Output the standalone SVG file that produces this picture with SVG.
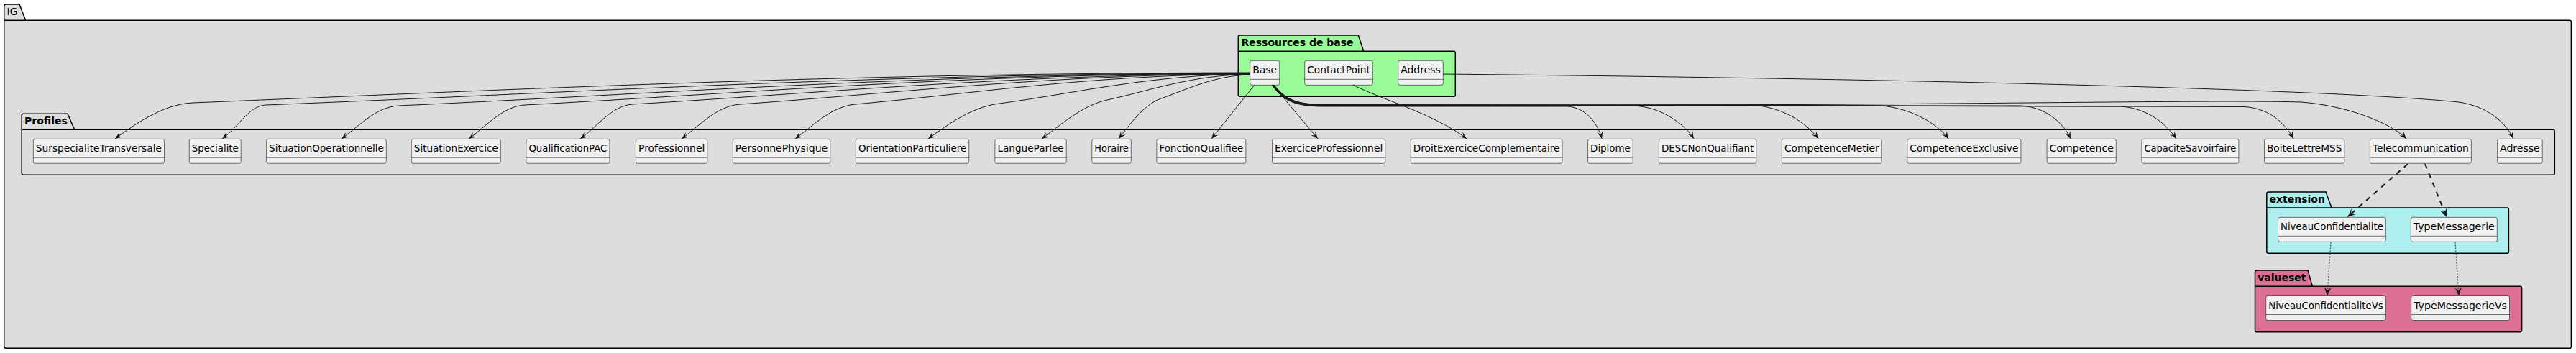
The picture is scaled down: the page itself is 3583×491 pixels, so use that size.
<svg xmlns="http://www.w3.org/2000/svg" width="3583" height="491" viewBox="0 0 3583 491">
<style>
.pkg{stroke:#000;stroke-width:1.5}
.ptitle{font-family:"DejaVu Sans",sans-serif;font-size:14px;font-weight:bold;fill:#000}
.node rect{fill:#F1F1F1;stroke:#181818;stroke-width:0.6}
.node line{stroke:#181818;stroke-width:0.6}
.node text{font-family:"DejaVu Sans",sans-serif;font-size:14px;fill:#000}
.edge{fill:none;stroke:#181818;stroke-width:1}
.dash{fill:none;stroke:#181818;stroke-width:2;stroke-dasharray:7 7}
.dot{fill:none;stroke:#444;stroke-width:1.2;stroke-dasharray:2 2}
</style>
<defs>
<marker id="ah" viewBox="-11 -6 12 12" refX="0" refY="0" markerWidth="12" markerHeight="12" markerUnits="userSpaceOnUse" orient="auto"><path d="M0,0 L-10,-4 L-6,0 L-10,4 Z" fill="#181818"/></marker>
<marker id="ahb" viewBox="-13 -7 14 14" refX="0" refY="0" markerWidth="14" markerHeight="14" markerUnits="userSpaceOnUse" orient="auto"><path d="M0,0 L-12,-5 L-7,0 L-12,5 Z" fill="#181818"/></marker>
</defs>
<rect x="0" y="0" width="3583" height="491" fill="#FFFFFF"/>
<g id="packages">
<g id="pkg-IG">
<path class="pkg" fill="#DDDDDD" d="M5.7,28.3 L5.7,8.5 Q5.7,6 8.2,6 L27,6 L35.6,28.3 L3573.9,28.3 Q3576.4,28.3 3576.4,30.8 L3576.4,481.8 Q3576.4,484.3 3573.9,484.3 L8.2,484.3 Q5.7,484.3 5.7,481.8 Z"/>
<line class="pkg" x1="5.7" y1="28.3" x2="35.6" y2="28.3"/>
<text x="9.6" y="20.7" style="font-family:'DejaVu Sans',sans-serif;font-size:14px;fill:#000">IG</text>
</g>
<g id="pkg-Profiles">
<path class="pkg" fill="#DDDDDD" d="M30.2,180.3 L30.2,160.8 Q30.2,158.3 32.7,158.3 L94,158.3 L103.7,180.3 L3550.8,180.3 Q3553.3,180.3 3553.3,182.8 L3553.3,240.8 Q3553.3,243.3 3550.8,243.3 L32.7,243.3 Q30.2,243.3 30.2,240.8 Z"/>
<line class="pkg" x1="30.2" y1="180.3" x2="103.7" y2="180.3"/>
<text class="ptitle" x="34" y="173.3">Profiles</text>
</g>
<g id="pkg-Ressources">
<path class="pkg" fill="#98FB98" d="M1722.3,71.3 L1722.3,51.5 Q1722.3,49 1724.8,49 L1889.3,49 L1896.7,71.3 L2021.8,71.3 Q2024.3,71.3 2024.3,73.8 L2024.3,131.8 Q2024.3,134.3 2021.8,134.3 L1724.8,134.3 Q1722.3,134.3 1722.3,131.8 Z"/>
<line class="pkg" x1="1722.3" y1="71.3" x2="1896.7" y2="71.3"/>
<text class="ptitle" x="1726.5" y="64.3">Ressources de base</text>
</g>
<g id="pkg-extension">
<path class="pkg" fill="#AFEEEE" d="M3152.8,289 L3152.8,269.5 Q3152.8,267 3155.3,267 L3235,267 L3243,289 L3486.9,289 Q3489.4,289 3489.4,291.5 L3489.4,349.8 Q3489.4,352.3 3486.9,352.3 L3155.3,352.3 Q3152.8,352.3 3152.8,349.8 Z"/>
<line class="pkg" x1="3152.8" y1="289" x2="3243" y2="289"/>
<text class="ptitle" x="3156.5" y="281.7">extension</text>
</g>
<g id="pkg-valueset">
<path class="pkg" fill="#DB7093" d="M3136.5,398.3 L3136.5,378.5 Q3136.5,376 3139,376 L3210,376 L3216.4,398.3 L3505.1,398.3 Q3507.6,398.3 3507.6,400.8 L3507.6,459.2 Q3507.6,461.7 3505.1,461.7 L3139,461.7 Q3136.5,461.7 3136.5,459.2 Z"/>
<line class="pkg" x1="3136.5" y1="398.3" x2="3216.4" y2="398.3"/>
<text class="ptitle" x="3140.2" y="391">valueset</text>
</g>
</g>
<g id="nodes">
<g id="Base" class="node"><rect x="1738.7" y="84.3" width="41" height="34" rx="2.5"/><line x1="1738.7" y1="110.3" x2="1779.7" y2="110.3"/><text x="1742.2" y="102.3" textLength="34" lengthAdjust="spacingAndGlyphs">Base</text></g>
<g id="ContactPoint" class="node"><rect x="1814.7" y="84.3" width="94.6" height="34" rx="2.5"/><line x1="1814.7" y1="110.3" x2="1909.3" y2="110.3"/><text x="1818.2" y="102.3" textLength="87.6" lengthAdjust="spacingAndGlyphs">ContactPoint</text></g>
<g id="Address" class="node"><rect x="1944.7" y="84.3" width="62.6" height="34" rx="2.5"/><line x1="1944.7" y1="110.3" x2="2007.3" y2="110.3"/><text x="1948.2" y="102.3" textLength="55.6" lengthAdjust="spacingAndGlyphs">Address</text></g>

<g id="SurspecialiteTransversale" class="node"><rect x="46.3" y="193.3" width="182.2" height="34" rx="2.5"/><line x1="46.3" y1="219.3" x2="228.5" y2="219.3"/><text x="49.8" y="211.3" textLength="175.2" lengthAdjust="spacingAndGlyphs">SurspecialiteTransversale</text></g>
<g id="Specialite" class="node"><rect x="263.3" y="193.3" width="71.9" height="34" rx="2.5"/><line x1="263.3" y1="219.3" x2="335.2" y2="219.3"/><text x="266.8" y="211.3" textLength="64.9" lengthAdjust="spacingAndGlyphs">Specialite</text></g>
<g id="SituationOperationnelle" class="node"><rect x="370.6" y="193.3" width="166.7" height="34" rx="2.5"/><line x1="370.6" y1="219.3" x2="537.3" y2="219.3"/><text x="374.1" y="211.3" textLength="159.7" lengthAdjust="spacingAndGlyphs">SituationOperationnelle</text></g>
<g id="SituationExercice" class="node"><rect x="572.3" y="193.3" width="124" height="34" rx="2.5"/><line x1="572.3" y1="219.3" x2="696.3" y2="219.3"/><text x="575.8" y="211.3" textLength="117" lengthAdjust="spacingAndGlyphs">SituationExercice</text></g>
<g id="QualificationPAC" class="node"><rect x="731.9" y="193.3" width="116" height="34" rx="2.5"/><line x1="731.9" y1="219.3" x2="847.9" y2="219.3"/><text x="735.4" y="211.3" textLength="109" lengthAdjust="spacingAndGlyphs">QualificationPAC</text></g>
<g id="Professionnel" class="node"><rect x="884.5" y="193.3" width="99.3" height="34" rx="2.5"/><line x1="884.5" y1="219.3" x2="983.8" y2="219.3"/><text x="888" y="211.3" textLength="92.3" lengthAdjust="spacingAndGlyphs">Professionnel</text></g>
<g id="PersonnePhysique" class="node"><rect x="1019.3" y="193.3" width="135.5" height="34" rx="2.5"/><line x1="1019.3" y1="219.3" x2="1154.8" y2="219.3"/><text x="1022.8" y="211.3" textLength="128.5" lengthAdjust="spacingAndGlyphs">PersonnePhysique</text></g>
<g id="OrientationParticuliere" class="node"><rect x="1190.4" y="193.3" width="157.3" height="34" rx="2.5"/><line x1="1190.4" y1="219.3" x2="1347.7" y2="219.3"/><text x="1193.9" y="211.3" textLength="150.3" lengthAdjust="spacingAndGlyphs">OrientationParticuliere</text></g>
<g id="LangueParlee" class="node"><rect x="1383.9" y="193.3" width="99.3" height="34" rx="2.5"/><line x1="1383.9" y1="219.3" x2="1483.2" y2="219.3"/><text x="1387.4" y="211.3" textLength="92.3" lengthAdjust="spacingAndGlyphs">LangueParlee</text></g>
<g id="Horaire" class="node"><rect x="1518.8" y="193.3" width="54.5" height="34" rx="2.5"/><line x1="1518.8" y1="219.3" x2="1573.3" y2="219.3"/><text x="1522.3" y="211.3" textLength="47.5" lengthAdjust="spacingAndGlyphs">Horaire</text></g>
<g id="FonctionQualifiee" class="node"><rect x="1608.9" y="193.3" width="124" height="34" rx="2.5"/><line x1="1608.9" y1="219.3" x2="1732.9" y2="219.3"/><text x="1612.4" y="211.3" textLength="117" lengthAdjust="spacingAndGlyphs">FonctionQualifiee</text></g>
<g id="ExerciceProfessionnel" class="node"><rect x="1769.5" y="193.3" width="157.3" height="34" rx="2.5"/><line x1="1769.5" y1="219.3" x2="1926.8" y2="219.3"/><text x="1773" y="211.3" textLength="150.3" lengthAdjust="spacingAndGlyphs">ExerciceProfessionnel</text></g>
<g id="DroitExerciceComplementaire" class="node"><rect x="1962.3" y="193.3" width="210.7" height="34" rx="2.5"/><line x1="1962.3" y1="219.3" x2="2173" y2="219.3"/><text x="1965.8" y="211.3" textLength="203.7" lengthAdjust="spacingAndGlyphs">DroitExerciceComplementaire</text></g>
<g id="Diplome" class="node"><rect x="2208.6" y="193.3" width="62.6" height="34" rx="2.5"/><line x1="2208.6" y1="219.3" x2="2271.2" y2="219.3"/><text x="2212.1" y="211.3" textLength="55.6" lengthAdjust="spacingAndGlyphs">Diplome</text></g>
<g id="DESCNonQualifiant" class="node"><rect x="2307.4" y="193.3" width="135.4" height="34" rx="2.5"/><line x1="2307.4" y1="219.3" x2="2442.8" y2="219.3"/><text x="2310.9" y="211.3" textLength="128.4" lengthAdjust="spacingAndGlyphs">DESCNonQualifiant</text></g>
<g id="CompetenceMetier" class="node"><rect x="2478.4" y="193.3" width="138.8" height="34" rx="2.5"/><line x1="2478.4" y1="219.3" x2="2617.2" y2="219.3"/><text x="2481.9" y="211.3" textLength="131.8" lengthAdjust="spacingAndGlyphs">CompetenceMetier</text></g>
<g id="CompetenceExclusive" class="node"><rect x="2652.8" y="193.3" width="158.1" height="34" rx="2.5"/><line x1="2652.8" y1="219.3" x2="2810.9" y2="219.3"/><text x="2656.3" y="211.3" textLength="151.1" lengthAdjust="spacingAndGlyphs">CompetenceExclusive</text></g>
<g id="Competence" class="node"><rect x="2847.1" y="193.3" width="96.2" height="34" rx="2.5"/><line x1="2847.1" y1="219.3" x2="2943.3" y2="219.3"/><text x="2850.6" y="211.3" textLength="89.2" lengthAdjust="spacingAndGlyphs">Competence</text></g>
<g id="CapaciteSavoirfaire" class="node"><rect x="2978.9" y="193.3" width="135" height="34" rx="2.5"/><line x1="2978.9" y1="219.3" x2="3113.9" y2="219.3"/><text x="2982.4" y="211.3" textLength="128" lengthAdjust="spacingAndGlyphs">CapaciteSavoirfaire</text></g>
<g id="BoiteLettreMSS" class="node"><rect x="3149.5" y="193.3" width="111.3" height="34" rx="2.5"/><line x1="3149.5" y1="219.3" x2="3260.8" y2="219.3"/><text x="3153" y="211.3" textLength="104.3" lengthAdjust="spacingAndGlyphs">BoiteLettreMSS</text></g>
<g id="Telecommunication" class="node"><rect x="3296.4" y="193.3" width="141" height="34" rx="2.5"/><line x1="3296.4" y1="219.3" x2="3437.4" y2="219.3"/><text x="3299.9" y="211.3" textLength="134" lengthAdjust="spacingAndGlyphs">Telecommunication</text></g>
<g id="Adresse" class="node"><rect x="3473.6" y="193.3" width="62.6" height="34" rx="2.5"/><line x1="3473.6" y1="219.3" x2="3536.2" y2="219.3"/><text x="3477.1" y="211.3" textLength="55.6" lengthAdjust="spacingAndGlyphs">Adresse</text></g>

<g id="NiveauConfidentialite" class="node"><rect x="3168.5" y="302.3" width="149.8" height="34" rx="2.5"/><line x1="3168.5" y1="328.3" x2="3318.3" y2="328.3"/><text x="3172" y="320.3" textLength="142.8" lengthAdjust="spacingAndGlyphs">NiveauConfidentialite</text></g>
<g id="TypeMessagerie" class="node"><rect x="3353.3" y="302.3" width="120" height="34" rx="2.5"/><line x1="3353.3" y1="328.3" x2="3473.3" y2="328.3"/><text x="3356.8" y="320.3" textLength="113" lengthAdjust="spacingAndGlyphs">TypeMessagerie</text></g>

<g id="NiveauConfidentialiteVs" class="node"><rect x="3151.7" y="411.5" width="166.6" height="34" rx="2.5"/><line x1="3151.7" y1="437.5" x2="3318.3" y2="437.5"/><text x="3155.2" y="429.5" textLength="159.6" lengthAdjust="spacingAndGlyphs">NiveauConfidentialiteVs</text></g>
<g id="TypeMessagerieVs" class="node"><rect x="3353.7" y="411.5" width="136.8" height="34" rx="2.5"/><line x1="3353.7" y1="437.5" x2="3490.5" y2="437.5"/><text x="3357.2" y="429.5" textLength="129.8" lengthAdjust="spacingAndGlyphs">TypeMessagerieVs</text></g>
</g>
<g id="connectors">
<path class="edge" marker-end="url(#ah)" d="M1739,101 C1151,102 709,125 268,143 C225,145 185,175 160,193"/>
<path class="edge" marker-end="url(#ah)" d="M1739,101.5 C1191,103 781,130 370,146 C346,147 334,175 309,193"/>
<path class="edge" marker-end="url(#ah)" d="M1739,102 C1265,103 910,131 555,147 C523,148.5 500,175 475,193"/>
<path class="edge" marker-end="url(#ah)" d="M1739,102 C1335,103 1033,130 730,146 C699,148 677,175 652,193"/>
<path class="edge" marker-end="url(#ah)" d="M1739,102.5 C1395,104 1138,130 880,145 C851,147 832,175 807,193"/>
<path class="edge" marker-end="url(#ah)" d="M1739,102.5 C1455,104 1243,130 1030,145 C997,147 973,175 948,193"/>
<path class="edge" marker-end="url(#ah)" d="M1739,103 C1519,104 1355,130 1190,145 C1156,148 1131,175 1106,193"/>
<path class="edge" marker-end="url(#ah)" d="M1739,103 C1599,104 1495,130 1390,144 C1350,149 1316,175 1291,193"/>
<path class="edge" marker-end="url(#ah)" d="M1739,103.5 C1659,104 1600,126 1540,139 C1504,147 1474,175 1449,193"/>
<path class="edge" marker-end="url(#ah)" d="M1739,104 C1689,105 1652,124 1615,137 C1591,145 1570,175 1556,193"/>
<path class="edge" marker-end="url(#ah)" d="M1745,118 L1685,193"/>
<path class="edge" marker-end="url(#ah)" d="M1770,118 L1833,193"/>
<path class="edge" marker-end="url(#ah)" d="M1882,118 C1915,136 1995,158 2040,193"/>
<path class="edge" marker-end="url(#ah)" d="M1769,118 C1783,138 1797,147 1835,148 L2180,148 C2205,149.5 2222,170 2228,193"/>
<path class="edge" marker-end="url(#ah)" d="M1769.5,118 C1784,138 1798,146.5 1835,147.5 L2278,147.5 C2315,151 2345,175 2356,193"/>
<path class="edge" marker-end="url(#ah)" d="M1770,118 C1784,137.5 1799,146 1835,147 L2445,147 C2485,151 2516,175 2529,193"/>
<path class="edge" marker-end="url(#ah)" d="M1770.5,118 C1785,137.5 1799,146 1835,146.5 L2615,147 C2660,150 2698,175 2710,193"/>
<path class="edge" marker-end="url(#ah)" d="M1771,118 C1785,137 1800,145.5 1835,146 L2812,147 C2850,150 2872,175 2880,193"/>
<path class="edge" marker-end="url(#ah)" d="M1771,118 C1786,137 1800,145.5 1835,146 L2950,148 C2990,151 3015,175 3027,193"/>
<path class="edge" marker-end="url(#ah)" d="M1771.5,118 C1786,136.5 1801,145 1835,145.5 L3122,148.5 C3160,151 3180,175 3190,193"/>
<path class="edge" marker-end="url(#ah)" d="M1772,118 C1787,136.5 1801,145 1835,145 L2500,145.5 C2800,144 3100,139 3200,142 C3260,146 3325,170 3347,193"/>
<path class="edge" marker-end="url(#ah)" d="M2007,103 C2700,110 3250,125 3420,142 C3460,148 3485,170 3496,193"/>
<path class="dash" marker-end="url(#ahb)" d="M3349,228 L3265,302"/>
<path class="dash" marker-end="url(#ahb)" d="M3373,228 L3403,302"/>
<path class="dot" marker-end="url(#ahb)" d="M3242,336.5 L3237,411.5"/>
<path class="dot" marker-end="url(#ahb)" d="M3415,336.5 L3420,411.5"/>
</g>
</svg>
